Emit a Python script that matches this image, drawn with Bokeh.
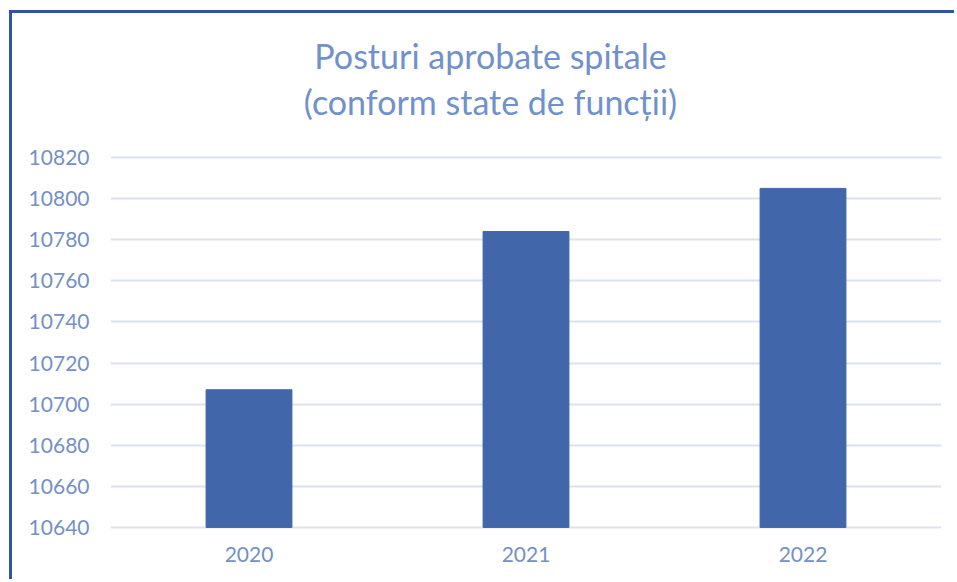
from bokeh.plotting import figure
from bokeh.models import Range1d, FactorRange, FixedTicker, Label
from bokeh.embed import file_html
from bokeh.resources import INLINE

years = ["2020", "2021", "2022"]
posturi = [10707, 10784, 10805]
y_ticks = [10640, 10660, 10680, 10700, 10720, 10740, 10760, 10780, 10800, 10820]
title_lines = ["Posturi aprobate spitale", "(conform state de funcții)"]

FONT = "Lato"
TXT = "#7590C6"

p = figure(width=945, height=569, x_range=FactorRange(*years),
           y_range=Range1d(10639, 10886.7), output_backend="svg",
           toolbar_location=None, min_border_left=98, min_border_right=16,
           min_border_top=7, min_border_bottom=53)
p.outline_line_color = None
p.background_fill_color = "white"
p.border_fill_color = "white"
p.styles = {"border-left": "3px solid #2F55A3", "border-top": "3px solid #2F55A3",
            "margin-left": "9px", "margin-top": "10px"}

p.vbar(x=years, top=posturi, bottom=10640, width=0.31, color="#4166AA")

p.xgrid.grid_line_color = None
p.ygrid.grid_line_color = "#DCE3F0"
p.ygrid.grid_line_width = 2
p.yaxis.ticker = FixedTicker(ticks=y_ticks)

for ax in (p.xaxis, p.yaxis):
    ax.axis_line_color = None
    ax.major_tick_line_color = None
    ax.minor_tick_line_color = None
    ax.major_tick_out = 0
    ax.major_tick_in = 0
    ax.major_label_text_color = TXT
    ax.major_label_text_font = FONT
    ax.major_label_text_font_size = "21px"
p.yaxis.major_label_standoff = 21
p.xaxis.major_label_standoff = 17

for i, line in enumerate(title_lines):
    p.add_layout(Label(x=380, y=474 - 46 * i, x_units="screen", y_units="screen",
                       text=line, text_align="center", text_baseline="middle",
                       text_font=FONT, text_font_size="34px", text_color="#7191CB"))

open("out.html", "w").write(file_html(p, INLINE))
